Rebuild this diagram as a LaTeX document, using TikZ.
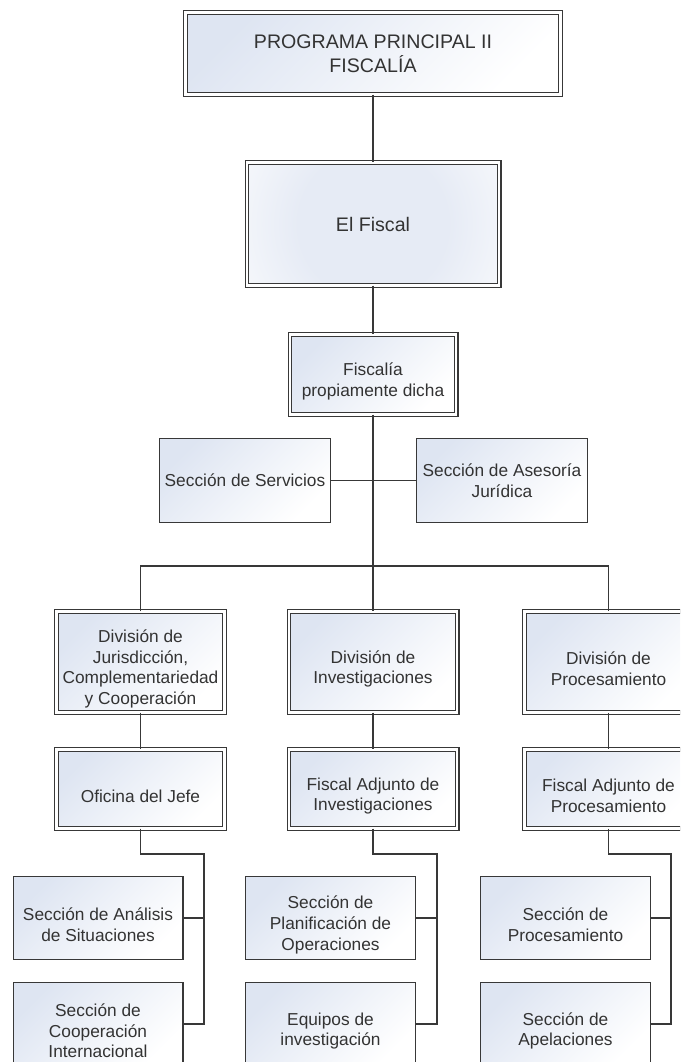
\documentclass[tikz,border=0pt]{standalone}
\usepackage{fontspec}
\setmainfont{Liberation Sans}
\definecolor{ln}{HTML}{383838}
\definecolor{tx}{HTML}{333333}
\definecolor{bf}{HTML}{DEE5F2}
\definecolor{bfc}{HTML}{E6EBF5}
\pgfdeclareradialshading{softglow}{\pgfpoint{0bp}{0bp}}{color(0bp)=(bfc); color(20bp)=(bfc); color(50bp)=(white); color(100bp)=(white)}
\begin{document}
\begin{tikzpicture}[x=1pt,y=-1pt,
  base/.style={font=\fontsize{17.3}{20.6}\selectfont, text=tx, align=center,
    inner sep=0pt, outer sep=0pt, top color=bf, bottom color=white, shading angle=45},
  big/.style={font=\fontsize{19.6}{24}\selectfont},
  lbl/.style={font=\fontsize{17.3}{20.6}\selectfont, text=tx, align=center, inner sep=0pt, yshift=-7pt},
  txt/.style={label={[lbl]center:{#1}}},
  dbox/.style={base, draw=ln, line width=1.2pt, double=white, double distance=2.4pt},
  sbox/.style={base, draw=ln, line width=1.4pt},
  divbox/.style={dbox, minimum width=168.2pt, minimum height=101.2pt},
  adjbox/.style={dbox, minimum width=168.2pt, minimum height=79.2pt},
  secbox/.style={sbox, minimum width=169.6pt, minimum height=82.6pt},
  conn/.style={draw=ln, line width=1.4pt}]
\useasboundingbox (0,0) rectangle (680,1062);
\fill[white] (0,0) rectangle (680,1062);
\clip (0,0) rectangle (680,1062);

% top levels
\node[dbox, big, minimum width=375.2pt, minimum height=82.2pt] (top) at (373,53.5) {PROGRAMA PRINCIPAL II\\FISCALÍA};
\node[dbox, big, shading=softglow, minimum width=252.2pt, minimum height=123.2pt] (fiscal) at (373,224) {El Fiscal};
\node[dbox, minimum width=166.2pt, minimum height=80.2pt, txt={Fiscalía\\propiamente dicha}] (fpd) at (373,374.5) {};
\node[sbox, minimum width=170.6pt, minimum height=83.6pt] (serv) at (245,480.5) {Sección de Servicios};
\node[sbox, minimum width=170.6pt, minimum height=83.6pt] (ases) at (502,480.5) {Sección de Asesoría\\Jurídica};

% divisions
\node[divbox, txt={División de\\Jurisdicción,\\Complementariedad\\y Cooperación}] (djur) at (140.5,662) {};
\node[divbox, txt={División de\\Investigaciones}] (dinv) at (373,662) {};
\node[divbox, txt={División de\\Procesamiento}] (dproc) at (608.5,662) {};

% second level
\node[adjbox, txt={Oficina del Jefe}] (ojefe) at (140.5,789) {};
\node[adjbox, txt={Fiscal Adjunto de\\Investigaciones}] (fainv) at (373,789) {};
\node[adjbox, txt={Fiscal Adjunto de\\Procesamiento}] (faproc) at (608.5,789) {};

% sections
\node[secbox, txt={Sección de Análisis\\de Situaciones}] (anal) at (98,918) {};
\node[secbox, txt={Sección de\\Cooperación\\Internacional}] (coop) at (98,1024) {};
\node[secbox, txt={Sección de\\Planificación de\\Operaciones}] (plan) at (330.5,918) {};
\node[secbox, txt={Equipos de\\investigación}] (equi) at (330.5,1024) {};
\node[secbox, txt={Sección de\\Procesamiento}] (sproc) at (565.5,918) {};
\node[secbox, txt={Sección de\\Apelaciones}] (apel) at (565.5,1024) {};

% connectors
\draw[conn] (top.south) -- (fiscal.north);
\draw[conn] (fiscal.south) -- (fpd.north);
\draw[conn] (fpd.south) -- (dinv.north);
\draw[conn] (serv.east) -- (serv.east -| fpd.south);
\draw[conn] (ases.west) -- (ases.west -| fpd.south);
\coordinate (bus) at (373,566);
\draw[conn] (djur.north) |- (bus) -| (dproc.north);

\draw[conn] (djur.south) -- (ojefe.north);
\draw[conn] (dinv.south) -- (fainv.north);
\draw[conn] (dproc.south) -- (faproc.north);

\coordinate (j1) at (204,854);
\coordinate (j2) at (437,854);
\coordinate (j3) at (671,854);
\draw[conn] (ojefe.south) |- (j1) |- (coop.east);
\draw[conn] (anal.east) -- (anal.east -| j1);
\draw[conn] (fainv.south) |- (j2) |- (equi.east);
\draw[conn] (plan.east) -- (plan.east -| j2);
\draw[conn] (faproc.south) |- (j3) |- (apel.east);
\draw[conn] (sproc.east) -- (sproc.east -| j3);
\end{tikzpicture}
\end{document}
